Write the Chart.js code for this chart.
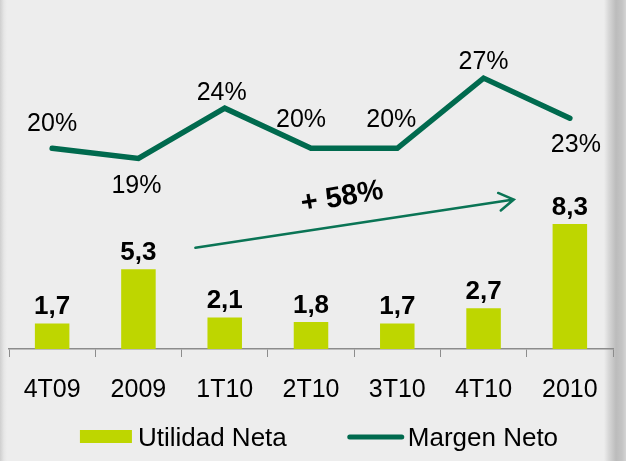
<!DOCTYPE html>
<html>
<head>
<meta charset="utf-8">
<script src="https://cdn.jsdelivr.net/npm/chart.js@4"></script>
<style>
    body { margin: 0; }
    #wrap {
        width: 626px;
        height: 461px;
        background: linear-gradient(to right, #cfcfcf 0px, #e6e6e6 4px, #ededed 7px, #ededed 604px, #d6d6d6 609px, #bcbcbc 616px, #c4c4c4 622px, #d4d4d4 626px);
    }
</style>
</head>
<body>
<div id="wrap"><canvas id="chart" width="626" height="461"></canvas></div>
<script>
const categories = ['4T09', '2009', '1T10', '2T10', '3T10', '4T10', '2010'];
const utilidadNeta = [1.7, 5.3, 2.1, 1.8, 1.7, 2.7, 8.3];
const margenNeto = [20, 19, 24, 20, 20, 27, 23];

const FONT = "'Liberation Sans', Arial, sans-serif";
const BAR_COLOR = '#bed600';
const LINE_COLOR = '#006a4e';

// labels above the bars and around the line points
const valueLabels = {
    id: 'valueLabels',
    afterDatasetsDraw(chart, args, opts) {
        const ctx = chart.ctx;
        ctx.save();
        ctx.fillStyle = '#000';
        ctx.textAlign = 'center';
        ctx.textBaseline = 'alphabetic';

        ctx.font = 'bold 26px ' + FONT;
        chart.getDatasetMeta(0).data.forEach((el, i) => {
            const txt = utilidadNeta[i].toFixed(1).replace('.', ',');
            ctx.fillText(txt, el.x, el.y - 9);
        });

        ctx.font = '25px ' + FONT;
        chart.getDatasetMeta(1).data.forEach((el, i) => {
            const off = opts.lineOffsets[i];
            ctx.fillText(Math.round(margenNeto[i]) + '%', el.x + off[0], el.y + off[1]);
        });
        ctx.restore();
    }
};

// growth arrow between 2009 and 2010
const growthArrow = {
    id: 'growthArrow',
    afterDatasetsDraw(chart) {
        const x = chart.scales.x, y = chart.scales.y;
        const ctx = chart.ctx;
        const x0 = x.getPixelForValue(1.66), y0 = y.getPixelForValue(6.73);
        const x1 = x.getPixelForValue(5.35), y1 = y.getPixelForValue(9.93);
        const ang = Math.atan2(y1 - y0, x1 - x0);
        ctx.save();
        ctx.strokeStyle = '#0a7455';
        ctx.lineWidth = 2.5;
        ctx.lineCap = 'round';
        ctx.beginPath();
        ctx.moveTo(x0, y0);
        ctx.lineTo(x1, y1);
        const head = 17;
        ctx.moveTo(x1 - head * Math.cos(ang - 0.55), y1 - head * Math.sin(ang - 0.55));
        ctx.lineTo(x1, y1);
        ctx.lineTo(x1 - head * Math.cos(ang + 0.55), y1 - head * Math.sin(ang + 0.55));
        ctx.stroke();

        ctx.translate(x.getPixelForValue(3.36), y.getPixelForValue(10.07));
        ctx.rotate(ang - 0.02);
        ctx.fillStyle = '#000';
        ctx.font = 'bold 29px ' + FONT;
        ctx.textAlign = 'center';
        ctx.textBaseline = 'middle';
        ctx.fillText('+ 58%', 0, 0);
        ctx.restore();
    }
};

// legend drawn below the axis
const bottomLegend = {
    id: 'bottomLegend',
    afterDraw(chart) {
        const ctx = chart.ctx;
        const sets = chart.data.datasets;
        ctx.save();
        ctx.font = '26px ' + FONT;
        const w1 = ctx.measureText(sets[0].label).width;
        const w2 = ctx.measureText(sets[1].label).width;
        const total = 52 + 6 + w1 + 61 + 56 + 4 + w2;
        let x = chart.width / 2 + 6 - total / 2;
        const cy = 437;

        ctx.fillStyle = BAR_COLOR;
        ctx.fillRect(x, cy - 7, 52, 13);
        x += 58;
        ctx.fillStyle = '#000';
        ctx.textBaseline = 'alphabetic';
        ctx.fillText(sets[0].label, x, cy + 9);
        x += w1 + 61;

        ctx.strokeStyle = LINE_COLOR;
        ctx.lineWidth = 5;
        ctx.lineCap = 'round';
        ctx.beginPath();
        ctx.moveTo(x + 2, cy);
        ctx.lineTo(x + 54, cy);
        ctx.stroke();
        x += 60;
        ctx.fillText(sets[1].label, x, cy + 9);
        ctx.restore();
    }
};

new Chart(document.getElementById('chart'), {
    type: 'bar',
    data: {
        labels: categories,
        datasets: [
            {
                label: 'Utilidad Neta',
                data: utilidadNeta,
                backgroundColor: BAR_COLOR,
                barPercentage: 0.4,
                categoryPercentage: 1,
                yAxisID: 'y',
                order: 2
            },
            {
                type: 'line',
                label: 'Margen Neto',
                data: margenNeto,
                borderColor: LINE_COLOR,
                borderWidth: 5.5,
                borderCapStyle: 'round',
                borderJoinStyle: 'miter',
                pointRadius: 0,
                tension: 0,
                yAxisID: 'y1',
                order: 1
            }
        ]
    },
    options: {
        responsive: false,
        animation: false,
        devicePixelRatio: 1,
        layout: {
            padding: { top: 48, left: 9, right: 13, bottom: 38 }
        },
        plugins: {
            legend: { display: false },
            tooltip: { enabled: false },
            valueLabels: {
                lineOffsets: [[0, -17], [-2, 35], [-3, -8], [-10, -21], [-6, -21], [0, -9], [6, 34]]
            }
        },
        scales: {
            x: {
                grid: {
                    drawOnChartArea: false,
                    drawTicks: true,
                    tickLength: 8,
                    color: '#8c8c8c',
                    offset: true
                },
                border: { display: true, color: '#8c8c8c', width: 1.5 },
                ticks: {
                    color: '#000',
                    padding: 18,
                    font: { family: FONT, size: 25 }
                }
            },
            y: { display: false, min: 0, max: 20 },
            y1: { display: false, min: 0, max: 30 }
        }
    },
    plugins: [valueLabels, growthArrow, bottomLegend]
});
</script>
</body>
</html>
